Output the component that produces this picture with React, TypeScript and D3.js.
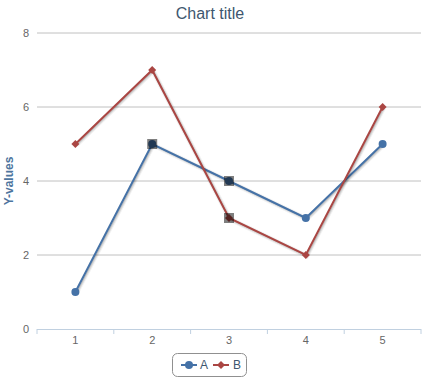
import React from "react";
import * as d3 from "d3";

const categories = ["1", "2", "3", "4", "5"];
const seriesA = [1, 5, 4, 3, 5];
const seriesB = [5, 7, 3, 2, 6];
const yTicks = [0, 2, 4, 6, 8];
const selectedA = [1, 2];
const selectedB = [2];

const W = 425, H = 382;
const left = 37, right = 421, top = 33, bottom = 329;
const FONT = "'Liberation Sans', Arial, Helvetica, sans-serif";
const colA = "#4572A7", colB = "#AA4643";

export default function App() {
  const x = d3.scaleBand<string>().domain(categories).range([left, right]);
  const y = d3.scaleLinear().domain([0, 8]).range([bottom, top]);
  const cx = (i: number) => (x(categories[i]) as number) + x.bandwidth() / 2;
  const line = d3.line<number>().x((_, i) => cx(i)).y((d) => y(d));
  const diamond = (px: number, py: number, r: number) =>
    `M${px},${py - r}L${px + r},${py}L${px},${py + r}L${px - r},${py}Z`;

  const shadow = (d: string, key: string) => (
    <g key={key} transform="translate(1,1)">
      <path d={d} fill="none" stroke="#000" strokeOpacity={0.05} strokeWidth={5} />
      <path d={d} fill="none" stroke="#000" strokeOpacity={0.1} strokeWidth={3} />
      <path d={d} fill="none" stroke="#000" strokeOpacity={0.15} strokeWidth={1} />
    </g>
  );

  const pathA = line(seriesA) as string;
  const pathB = line(seriesB) as string;
  const tickXs = categories.map((c) => x(c) as number).concat([right]);

  return (
    <svg width={W} height={H} style={{ position: "absolute", left: 0, top: 0, fontFamily: FONT }}>
      <rect width={W} height={H} fill="#fff" />
      <text x={210} y={19} textAnchor="middle" fontSize={16} fill="#3E576F">Chart title</text>
      {yTicks.map((t) => (
        <g key={t}>
          {t !== 0 && <line x1={left} x2={right} y1={y(t)} y2={y(t)} stroke="#C0C0C0" strokeWidth={1} />}
          <text x={29} y={y(t) + 4} textAnchor="end" fontSize={11} fill="#666">{t}</text>
        </g>
      ))}
      <line x1={left} x2={right} y1={bottom + 0.5} y2={bottom + 0.5} stroke="#C0D0E0" strokeWidth={1} />
      {tickXs.map((tx, i) => (
        <line key={i} x1={tx} x2={tx} y1={bottom} y2={bottom + 5} stroke="#C0D0E0" strokeWidth={1} />
      ))}
      {categories.map((c, i) => (
        <text key={c} x={cx(i)} y={bottom + 15} textAnchor="middle" fontSize={11} fill="#666">{c}</text>
      ))}
      <text transform={`translate(13,${(top + bottom) / 2}) rotate(-90)`} textAnchor="middle"
        fontSize={12} fontWeight="bold" fill="#4D759E">Y-values</text>

      {shadow(pathA, "sa")}
      <path d={pathA} fill="none" stroke={colA} strokeWidth={2} />
      {shadow(pathB, "sb")}
      <path d={pathB} fill="none" stroke={colB} strokeWidth={2} />
      {seriesA.map((v, i) => (
        <circle key={"a" + i} cx={cx(i)} cy={y(v)} r={4} fill={colA} />
      ))}
      {seriesB.map((v, i) => (
        <path key={"b" + i} d={diamond(cx(i), y(v), 4)} fill={colB} />
      ))}
      {selectedA.map((i) => (
        <rect key={"sa" + i} x={cx(i) - 5} y={y(seriesA[i]) - 5} width={10} height={10} fill="#000" fillOpacity={0.5} />
      ))}
      {selectedB.map((i) => (
        <rect key={"sb" + i} x={cx(i) - 5} y={y(seriesB[i]) - 5} width={10} height={10} fill="#000" fillOpacity={0.5} />
      ))}

      <rect x={172.5} y={353.5} width={74} height={23} rx={5} fill="#fff" stroke="#909090" strokeWidth={1} />
      <line x1={181} x2={197} y1={365} y2={365} stroke={colA} strokeWidth={2} />
      <circle cx={189} cy={365} r={4} fill={colA} />
      <text x={200} y={369} fontSize={12} fill="#3E576F">A</text>
      <line x1={213} x2={229} y1={365} y2={365} stroke={colB} strokeWidth={2} />
      <path d={diamond(221, 365, 4)} fill={colB} />
      <text x={233} y={369} fontSize={12} fill="#3E576F">B</text>
    </svg>
  );
}
